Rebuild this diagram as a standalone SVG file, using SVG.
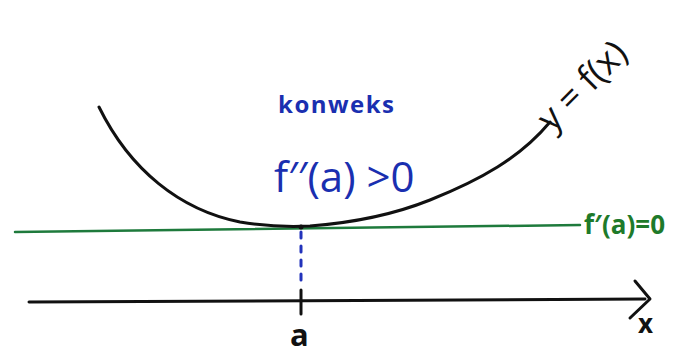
<svg xmlns="http://www.w3.org/2000/svg" width="673" height="358" viewBox="0 0 673 358">
<defs>
<style>
.ink{fill:none;stroke:#111;stroke-width:3;stroke-linecap:round;stroke-linejoin:round}
.green{fill:none;stroke:#1e7a3c;stroke-width:2.5;stroke-linecap:round}
.dots{fill:none;stroke:#2233bb;stroke-width:3;stroke-dasharray:6 8;stroke-linecap:round}
.blue{fill:#1a2fb0;font-family:"Open Sans","DejaVu Sans",sans-serif}
.gtxt{fill:#1e7a2a;font-family:"Open Sans","DejaVu Sans",sans-serif}
.btxt{fill:#111;font-family:"Open Sans","DejaVu Sans",sans-serif}
</style>
</defs>
<rect width="673" height="358" fill="#fff"/>
<g id="connectors">
<path class="green" d="M15,232 L580,225"/>
<path class="ink" d="M29,302 L645,299"/>
<path class="ink" d="M635,281 L650,299 L630,318"/>
<path class="dots" d="M301,232 L301,288"/>
<path class="ink" d="M301,290 L301,314"/>
</g>
<g id="curve">
<path class="ink" d="M99,107 C130,170 180,210 240,222 C270,227 290,227 310,226 C350,223 390,216 430,200 C480,180 520,158 550,122"/>
<circle cx="301" cy="227" r="2.5" fill="#111"/>
</g>
<g id="label-fx">
<text class="btxt" font-size="36" transform="translate(552,133) rotate(-45)">y = f(x)</text>
</g>
<g id="label-konweks">
<text class="blue" x="278" y="113" font-size="24" font-weight="bold" letter-spacing="1.5">konweks</text>
</g>
<g id="label-f2">
<text class="blue" x="274" y="192" font-size="42">f′′(a) &gt;0</text>
</g>
<g id="label-f1">
<text class="gtxt" x="584" y="234" font-size="26" font-weight="bold">f′(a)=0</text>
</g>
<g id="label-x">
<text class="btxt" x="638" y="333" font-size="26" font-weight="bold">x</text>
</g>
<g id="label-a">
<text class="btxt" x="290" y="346" font-size="31" font-weight="bold">a</text>
</g>
</svg>
